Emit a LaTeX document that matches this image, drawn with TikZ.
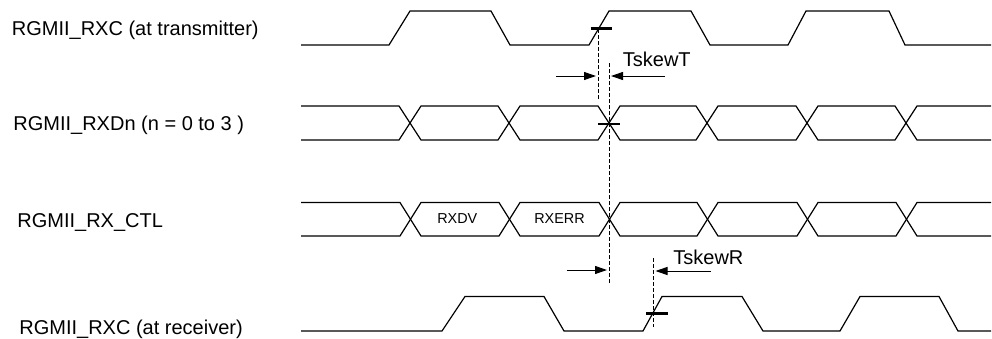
\documentclass[tikz,border=0pt]{standalone}
\usepackage{fontspec}
\setmainfont{Liberation Sans}
\usetikzlibrary{arrows.meta}
\begin{document}
\begin{tikzpicture}[x=0.5pt,y=-0.5pt,
  wave/.style={line width=0.6pt, line join=miter},
  tickmark/.style={line width=1.2pt},
  guide/.style={line width=0.5pt, dash pattern=on 1.8pt off 1.2pt},
  skewarrow/.style={line width=0.5pt, -{Triangle[length=6pt,width=4pt]}},
  lbl/.style={anchor=base west, inner sep=0pt, font=\fontsize{10pt}{12pt}\selectfont},
  small/.style={anchor=base, inner sep=0pt, font=\fontsize{7.2pt}{9pt}\selectfont}]
\useasboundingbox (0,0) rectangle (992,338);

% signal labels
\node[lbl] (l1) at (11.5,35) {RGMII\_RXC (at transmitter)};
\node[lbl] (l2) at (13,130) {RGMII\_RXDn (n = 0 to 3 )};
\node[lbl] (l3) at (17,227) {RGMII\_RX\_CTL};
\node[lbl] (l4) at (19,334) {RGMII\_RXC (at receiver)};

% clock at transmitter
\draw[wave] (301,45)--(389,45)--(410,11)--(491,11)--(510,45)--(589,45)--(609,11)--(691,11)--(710,45)--(788,45)--(806,11)--(889,11)--(905,45)--(991,45);

% RXD bus
\draw[wave] (301,106)--(399,106)--(421,140)--(498,140)--(520,106)--(598,106)--(620,140)--(696,140)--(718,106)--(796,106)--(818,140)--(895,140)--(917,106)--(991,106);
\draw[wave] (301,140)--(399,140)--(421,106)--(498,106)--(520,140)--(598,140)--(620,106)--(696,106)--(718,140)--(796,140)--(818,106)--(895,106)--(917,140)--(991,140);

% RX_CTL bus
\draw[wave] (301,202.5)--(400,202.5)--(421,236)--(499,236)--(520,202.5)--(599,202.5)--(620,236)--(697,236)--(718,202.5)--(797,202.5)--(818,236)--(896,236)--(917,202.5)--(991,202.5);
\draw[wave] (301,236)--(400,236)--(421,202.5)--(499,202.5)--(520,236)--(599,236)--(620,202.5)--(697,202.5)--(718,236)--(797,236)--(818,202.5)--(896,202.5)--(917,236)--(991,236);
\node[small] (rxdv) at (457.3,223.5) {RXDV};
\node[small] (rxerr) at (559.5,223.5) {RXERR};

% clock at receiver
\draw[wave] (301,331)--(442,331)--(465,296.5)--(544,296.5)--(564,331)--(643,331)--(662,296.5)--(742,296.5)--(763,331)--(840,331)--(860,296.5)--(939,296.5)--(958,331)--(991,331);

% tick marks
\coordinate (t1a) at (590.5,28.3); \coordinate (t1b) at (611.5,28.3);
\coordinate (t2a) at (598,124); \coordinate (t2b) at (620,124);
\coordinate (t3a) at (646,313.3); \coordinate (t3b) at (668,313.3);
\draw[tickmark] (t1a) -- (t1b);
\draw[tickmark] (t2a) -- (t2b);
\draw[tickmark] (t3a) -- (t3b);

% dashed guides
\coordinate (d1a) at (598,29); \coordinate (d1b) at (598,99);
\coordinate (d2a) at (609,63); \coordinate (d2b) at (609,282.5);
\coordinate (d3a) at (653.3,258); \coordinate (d3b) at (653.3,327);
\draw[guide] (d1a) -- (d1b);
\draw[guide] (d2a) -- (d2b);
\draw[guide] (d3a) -- (d3b);

% TskewT
\coordinate (a1s) at (556,76); \coordinate (a1e) at (596,76);
\coordinate (a2s) at (665,76); \coordinate (a2e) at (611,76);
\draw[skewarrow] (a1s) -- (a1e);
\draw[skewarrow] (a2s) -- (a2e);
\node[lbl] (tskewt) at (622.5,66.5) {TskewT};

% TskewR
\coordinate (b1s) at (566.7,270); \coordinate (b1e) at (607,270);
\coordinate (b2s) at (710.7,271); \coordinate (b2e) at (655.5,271);
\draw[skewarrow] (b1s) -- (b1e);
\draw[skewarrow] (b2s) -- (b2e);
\node[lbl] (tskewr) at (673,264) {TskewR};
\end{tikzpicture}
\end{document}
